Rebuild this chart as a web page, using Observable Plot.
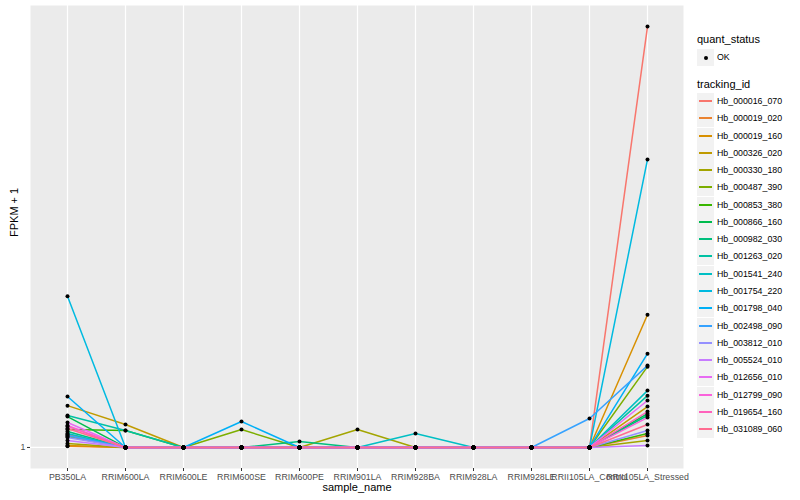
<!DOCTYPE html>
<html>
<head>
<meta charset="utf-8">
<script src="https://cdn.jsdelivr.net/npm/d3@7"></script>
<script src="https://cdn.jsdelivr.net/npm/@observablehq/plot@0.6"></script>
<style>
  html, body { margin: 0; padding: 0; background: #ffffff; }
  #wrap { position: relative; width: 800px; height: 500px; font-family: "Liberation Sans", Arial, Helvetica, sans-serif; }
  #legend { position: absolute; left: 697px; top: 0; }
  .ltitle { position: absolute; left: 0; font-size: 11px; color: #000; white-space: nowrap; }
  .lkey { position: absolute; left: 0; width: 17px; height: 17px; background: #F2F2F2; }
  .lline { position: absolute; left: 2px; top: 7px; width: 13px; height: 2px; }
  .ldot { position: absolute; left: 7px; top: 7px; width: 4px; height: 4px; border-radius: 2px; background: #000; }
  .ltext { position: absolute; left: 20px; font-size: 8.8px; color: #000; white-space: nowrap; line-height: 17px; }
</style>
</head>
<body>
<div id="wrap"></div>
<script>
const samples = ["PB350LA", "RRIM600LA", "RRIM600LE", "RRIM600SE", "RRIM600PE", "RRIM901LA",
  "RRIM928BA", "RRIM928LA", "RRIM928LE", "RRII105LA_Control", "RRII105LA_Stressed"];

const trackingIds = ["Hb_000016_070", "Hb_000019_020", "Hb_000019_160", "Hb_000326_020", "Hb_000330_180",
  "Hb_000487_390", "Hb_000853_380", "Hb_000866_160", "Hb_000982_030", "Hb_001263_020",
  "Hb_001541_240", "Hb_001754_220", "Hb_001798_040", "Hb_002498_090", "Hb_003812_010",
  "Hb_005524_010", "Hb_012656_010", "Hb_012799_090", "Hb_019654_160", "Hb_031089_060"];

const quantStatus = ["OK"];

// FPKM + 1, one row per tracking_id, one column per sample
const fpkmPlus1 = [
  [1.062, 1, 1, 1, 1, 1, 1, 1, 1, 1, 6.98],
  [1.005, 1, 1, 1, 1, 1, 1, 1, 1, 1, 1.057],
  [1.009, 1, 1, 1, 1, 1, 1, 1, 1, 1, 1.845],
  [1.213, 1.112, 1, 1, 1, 1, 1, 1, 1, 1, 1.208],
  [1.019, 1, 1, 1, 1, 1.086, 1, 1, 1, 1, 1.033],
  [1.052, 1, 1, 1.086, 1, 1, 1, 1, 1, 1, 1.452],
  [1.086, 1.081, 1, 1, 1, 1, 1, 1, 1, 1, 1.067],
  [1.153, 1, 1, 1, 1, 1, 1, 1, 1, 1, 1.169],
  [1.076, 1, 1, 1, 1.028, 1, 1, 1, 1, 1, 1.159],
  [1.159, 1.081, 1, 1, 1, 1, 1, 1, 1, 1, 1.270],
  [1.067, 1, 1, 1, 1, 1, 1.067, 1, 1, 1, 1.300],
  [2.01, 1, 1, 1, 1, 1, 1, 1, 1, 1, 3.78],
  [1.265, 1, 1, 1.127, 1, 1, 1, 1, 1, 1, 1.542],
  [1.057, 1, 1, 1, 1, 1, 1, 1, 1, 1.143, 1.459],
  [1.047, 1, 1, 1, 1, 1, 1, 1, 1, 1, 1.081],
  [1.033, 1, 1, 1, 1, 1, 1, 1, 1, 1, 1.009],
  [1.122, 1, 1, 1, 1, 1, 1, 1, 1, 1, 1.242],
  [1.107, 1, 1, 1, 1, 1, 1, 1, 1, 1, 1.148],
  [1.102, 1, 1, 1, 1, 1, 1, 1, 1, 1, 1.180],
  [1.091, 1, 1, 1, 1, 1, 1, 1, 1, 1, 1.112]
];

const yTicks = [1];

const palette = ["#F8766D", "#EA8331", "#D89000", "#C09B00", "#A3A500", "#7CAE00", "#39B600", "#00BB4E",
  "#00BF7D", "#00C1A3", "#00BFC4", "#00BAE0", "#00B0F6", "#35A2FF", "#9590FF", "#C77CFF",
  "#E76BF3", "#FA62DB", "#FF62BC", "#FF6C91"];

const rows = [];
trackingIds.forEach((id, i) => {
  samples.forEach((s, j) => {
    rows.push({tracking_id: id, sample_name: s, value: fpkmPlus1[i][j], quant_status: quantStatus[0]});
  });
});

const logMax = Math.log10(d3.max(rows, d => d.value));
const pad = logMax * 0.05;
const yDomain = [Math.pow(10, -pad), Math.pow(10, logMax + pad)];

const font = '"Liberation Sans", Arial, Helvetica, sans-serif';

const chart = Plot.plot({
  width: 800,
  height: 500,
  marginLeft: 30,
  marginRight: 117,
  marginTop: 5,
  marginBottom: 32,
  style: {fontFamily: font, fontSize: "8.8px", background: "#ffffff", overflow: "visible"},
  x: {type: "point", domain: samples, padding: 0.6},
  y: {type: "log", domain: yDomain},
  color: {domain: trackingIds, range: palette},
  marks: [
    Plot.frame({fill: "#EBEBEB", stroke: null}),
    Plot.ruleX(samples, {x: d => d, stroke: "#ffffff", strokeWidth: 1.2}),
    Plot.ruleY(yTicks, {y: d => d, stroke: "#ffffff", strokeWidth: 1.2}),
    Plot.axisX({tickSize: 3, tickPadding: 2, stroke: "#333333", fill: "#4D4D4D", label: null, fontSize: 8.8}),
    Plot.axisY({ticks: yTicks, tickFormat: d => String(d), tickSize: 3, tickPadding: 2, stroke: "#333333", fill: "#4D4D4D", label: null, fontSize: 8.8}),
    Plot.line(rows, {x: "sample_name", y: "value", z: "tracking_id", stroke: "tracking_id", strokeWidth: 1.5}),
    Plot.dot(rows, {x: "sample_name", y: "value", r: 2, fill: "#000000", stroke: null}),
    Plot.text(["sample_name"], {frameAnchor: "bottom", dy: 22, fontSize: 11, fill: "#000000", text: d => d}),
    Plot.text(["FPKM + 1"], {frameAnchor: "left", dx: -16, rotate: -90, fontSize: 11, fill: "#000000", text: d => d})
  ]
});

const wrap = document.getElementById("wrap");
wrap.appendChild(chart);

// Legend (HTML, ggplot-style)
const legend = document.createElement("div");
legend.id = "legend";
let html = "";
html += `<div class="ltitle" style="top:33px">quant_status</div>`;
quantStatus.forEach((q, i) => {
  const top = 49 + Math.round(i * 17.27);
  html += `<div class="lkey" style="top:${top}px"><div class="ldot"></div></div>`;
  html += `<div class="ltext" style="top:${top}px">${q}</div>`;
});
html += `<div class="ltitle" style="top:78px">tracking_id</div>`;
trackingIds.forEach((id, i) => {
  const top = 93 + Math.round(i * 17.27);
  html += `<div class="lkey" style="top:${top}px"><div class="lline" style="background:${palette[i]}"></div></div>`;
  html += `<div class="ltext" style="top:${top}px">${id}</div>`;
});
legend.innerHTML = html;
wrap.appendChild(legend);
</script>
</body>
</html>
